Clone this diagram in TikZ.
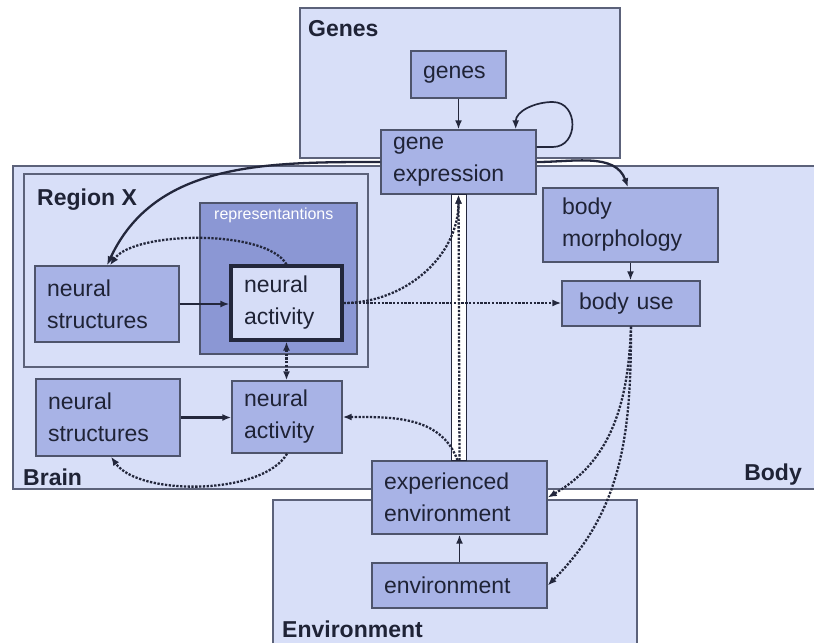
\documentclass[tikz,border=0pt]{standalone}
\usepackage{fontspec}
\setmainfont{Liberation Sans}
\usetikzlibrary{arrows.meta}
\definecolor{regionfill}{HTML}{D8DFF8}
\definecolor{regionline}{HTML}{5C627A}
\definecolor{boxfill}{HTML}{A8B3E6}
\definecolor{boxline}{HTML}{4E546C}
\definecolor{repfill}{HTML}{8B97D4}
\definecolor{activefill}{HTML}{D6DDF7}
\definecolor{textcol}{HTML}{1F2336}
\definecolor{linecol}{HTML}{23273C}
\newcommand\boxfont{\fontsize{23}{32}\selectfont}
\tikzset{
	region/.style={fill=regionfill,draw=regionline,line width=1.2pt},
	box/.style={draw=boxline,fill=boxfill,line width=1.4pt,inner xsep=12pt,inner ysep=0pt,align=left,text=textcol,font=\boxfont},
	lbl/.style={anchor=base west,inner sep=0pt,text=textcol,font=\bfseries\boxfont},
	arr/.style={-{Latex[length=9pt,width=7pt]},line width=1.7pt,draw=linecol},
	bigarr/.style={arr,line width=2.3pt},
	dots/.style={arr,line width=2.3pt,dash pattern=on 2.3pt off 1.5pt},
}

\begin{document}
\begin{tikzpicture}[x=1pt,y=1pt]
	\useasboundingbox (0,0) rectangle (814,-643);
	% regions
	\draw[region] (300,-8) rectangle (620,-158);
	\fill[regionfill] (13,-166) rectangle (814,-489);
	\draw[draw=regionline,line width=1.2pt] (814,-166) -- (13,-166) -- (13,-489) -- (814,-489);
	\fill[regionfill] (273,-500) rectangle (637,-643);
	\draw[draw=regionline,line width=1.2pt] (273,-643) -- (273,-500) -- (637,-500) -- (637,-643);
	\draw[region] (24,-174) rectangle (368,-367);
	\draw[draw=boxline,fill=repfill,line width=1.4pt] (200,-203) rectangle (357,-354);
	% region labels
	\node[lbl] (genesLbl) at (308,-36) {Genes};
	\node[lbl] (regionLbl) at (37,-205) {Region X};
	\node[lbl] (brainLbl) at (23,-485) {Brain};
	\node[lbl,anchor=base east] (bodyLbl) at (802,-480) {Body};
	\node[lbl] (envLbl) at (282,-637) {Environment};
	\node[anchor=base west,inner sep=0pt,text=white,font=\fontsize{16}{19}\selectfont] (repLbl) at (214,-219) {representantions};
	% boxes
	\node[box,text width=71pt,minimum height=47pt] (genes) at (458.5,-74.5) {genes};
	\node[box,text width=131pt,minimum height=64pt] (gexp) at (458.5,-162) {gene\\expression};
	\node[box,text width=120pt,minimum height=76pt] (nsx) at (107,-304) {neural\\structures};
	\node[box,draw=linecol,fill=activefill,line width=3.2pt,inner xsep=13pt,text width=85pt,minimum height=74pt] (nax) at (286.5,-303) {neural\\activity};
	\node[box,text width=120pt,minimum height=77pt] (ns) at (108,-417.5) {neural\\structures};
	\node[box,text width=86pt,minimum height=72pt] (na) at (287,-417) {neural\\activity};
	\node[box,inner xsep=19pt,text width=137pt,minimum height=74pt] (bm) at (630.5,-225) {body\\morphology};
	\node[box,inner xsep=17pt,text width=104pt,minimum height=45pt] (bu) at (631,-303.5) {body use};
	\node[box,text width=151pt,minimum height=73pt] (ee) at (459.5,-497.5) {experienced\\environment};
	\node[box,text width=151pt,minimum height=45pt] (env) at (459.5,-585.5) {environment};
	% double bar
	\draw[line width=1.3pt,draw=linecol,fill=white] ([xshift=-7pt]gexp.south) rectangle ([xshift=7pt]ee.north);
	% solid connectors
	\draw[arr] (genes) -- (gexp);
	\draw[arr] ([yshift=15pt]gexp.east) -- ++(16,0) to[out=0,in=0,looseness=1.5] ++(0,45) to[out=180,in=90] ([xshift=-21pt]gexp.north east);
	\draw[bigarr] (gexp.west) to[out=180,in=65] (nsx.north);
	\draw[bigarr] (gexp.east) to[out=0,in=110] ([xshift=-2.5pt]bm.north);
	\draw[bigarr] (nsx.east) -- (nsx.east -| nax.west);
	\draw[bigarr] (ns.east) -- (ns.east -| na.west);
	\draw[arr] (bm.south) -- (bm.south |- bu.north);
	\draw[arr] (env) -- (ee);
	% dotted connectors
	\draw[dots] (nax.north) to[out=120,in=55,looseness=0.6] ([xshift=3pt]nsx.north);
	\draw[dots,{Latex[length=9pt,width=7pt]}-{Latex[length=9pt,width=7pt]}] (nax.south) -- (nax.south |- na.north);
	\draw[dots] (na.south) to[out=-120,in=-55,looseness=0.7] ([xshift=3pt]ns.south);
	\draw[dots] (nax.east) -- (nax.east -| bu.west);
	\draw[dots] (nax.east) to[out=0,in=-90] (gexp.south);
	\draw[dots] (ee.north) -- (gexp.south);
	\draw[dots] ([xshift=-2pt]ee.north) to[out=110,in=0] (na.east);
	\draw[dots] (bu.south) to[out=-92,in=30] (ee.east);
	\draw[dots] (bu.south) to[out=-90,in=45] (env.east);
\end{tikzpicture}
\end{document}
